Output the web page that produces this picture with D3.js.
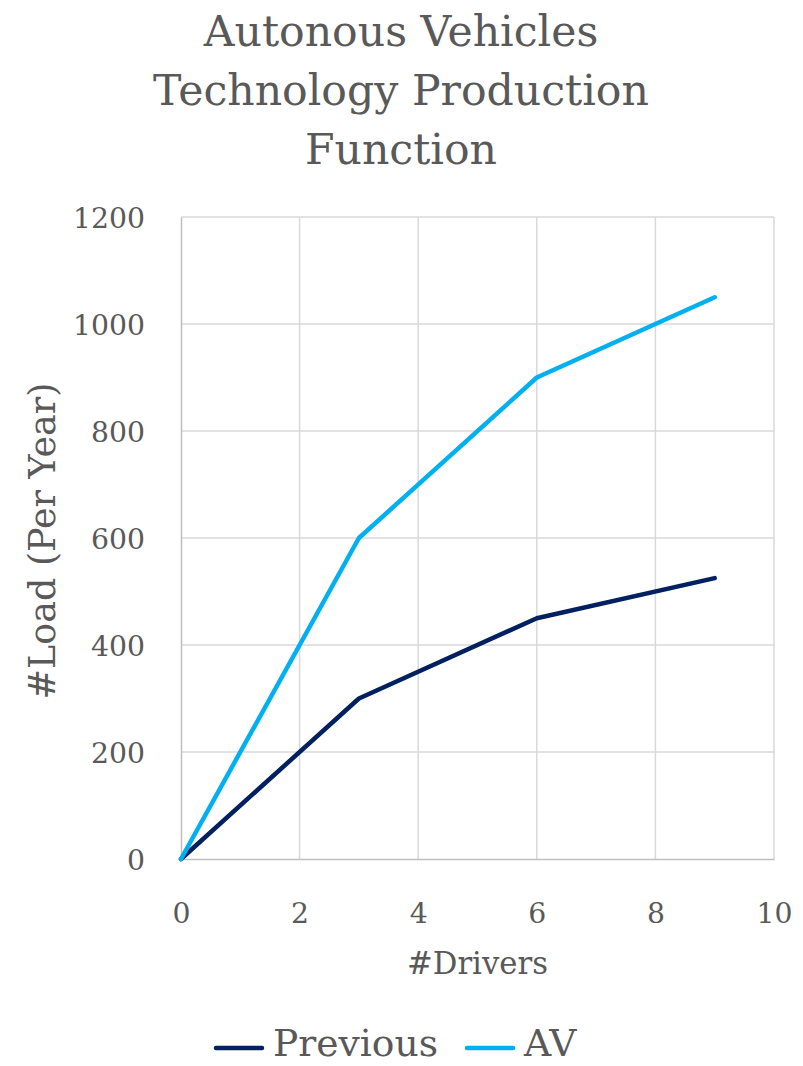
<!DOCTYPE html>
<html><head><meta charset="utf-8">
<script src="https://cdn.jsdelivr.net/npm/d3@7"></script>
<style>body{margin:0;background:#fff}text{font-family:"DejaVu Serif",serif;fill:#595959}</style>
</head><body><svg id="c" width="803" height="1066"></svg>
<script>
const titleLines = ["Autonous Vehicles","Technology Production","Function"];
const drivers = [0,3,6,9];
const previous = [0,300,450,525];
const av = [0,600,900,1050];
const seriesNames = ["Previous","AV"];
const seriesColors = ["#002060","#00B0F0"];
const xTicks = [0,2,4,6,8,10];
const yTicks = [0,200,400,600,800,1000,1200];

const svg = d3.select("#c");
const m = {l:181, r:774, t:217, b:859};
const x = d3.scaleLinear().domain([0,10]).range([m.l,m.r]);
const y = d3.scaleLinear().domain([0,1200]).range([m.b,m.t]);

function fit(sample, target){
  const t = svg.append("text").style("font-size","40px").text(sample);
  const w = t.node().getComputedTextLength(); t.remove();
  return 40*target/w;
}
const titleSize = fit("Technology Production",496);
const tickSize = fit("1200",72);
const axTitleSize = fit("#Drivers",141);
const yTitleSize = fit("#Load (Per Year)",317);
const legSize = fit("Previous",165);

svg.selectAll(".t").data(titleLines).join("text")
  .attr("x",401).attr("y",(d,i)=>46+i*59).attr("text-anchor","middle")
  .style("font-size",titleSize+"px").text(d=>d);

svg.append("g").selectAll("line").data(yTicks.slice(1)).join("line")
  .attr("x1",m.l).attr("x2",m.r).attr("y1",d=>y(d)).attr("y2",d=>y(d))
  .attr("stroke","#d9d9d9").attr("stroke-width",1.5);
svg.append("g").selectAll("line").data(xTicks.slice(1)).join("line")
  .attr("y1",m.t).attr("y2",m.b).attr("x1",d=>x(d)).attr("x2",d=>x(d))
  .attr("stroke","#d9d9d9").attr("stroke-width",1.5);

const xa = svg.append("g").attr("transform",`translate(0,${m.b})`)
  .call(d3.axisBottom(x).tickValues(xTicks).tickSize(0).tickPadding(0).tickFormat(d3.format("d")));
xa.select(".domain").attr("stroke","#bfbfbf").attr("stroke-width",1.5);
xa.selectAll("text").attr("dy",0).attr("y",64).style("font-size",tickSize+"px").attr("fill","#595959");

const ya = svg.append("g").attr("transform",`translate(${m.l},0)`)
  .call(d3.axisLeft(y).tickValues(yTicks).tickSize(0).tickPadding(36).tickFormat(d3.format("d")));
ya.select(".domain").attr("stroke","#bfbfbf").attr("stroke-width",1.5);
ya.selectAll("text").attr("dy","0.38em").style("font-size",tickSize+"px").attr("fill","#595959");

svg.append("text").attr("x",(m.l+m.r)/2).attr("y",974).attr("text-anchor","middle")
  .style("font-size",axTitleSize+"px").text("#Drivers");
svg.append("text").attr("transform","translate(55,541) rotate(-90)").attr("text-anchor","middle")
  .style("font-size",yTitleSize+"px").text("#Load (Per Year)");

const line = d3.line().x((d,i)=>x(drivers[i])).y(d=>y(d));
[previous,av].forEach((s,k)=>{
  svg.append("path").attr("d",line(s)).attr("fill","none")
    .attr("stroke",seriesColors[k]).attr("stroke-width",4.5)
    .attr("stroke-linejoin","round").attr("stroke-linecap","round");
});

const lx = [216,467];
seriesNames.forEach((n,k)=>{
  svg.append("line").attr("x1",lx[k]).attr("x2",lx[k]+46).attr("y1",1048).attr("y2",1048)
    .attr("stroke",seriesColors[k]).attr("stroke-width",4.5).attr("stroke-linecap","round");
  svg.append("text").attr("x",lx[k]+57).attr("y",1056).style("font-size",legSize+"px").text(n);
});
</script></body></html>
